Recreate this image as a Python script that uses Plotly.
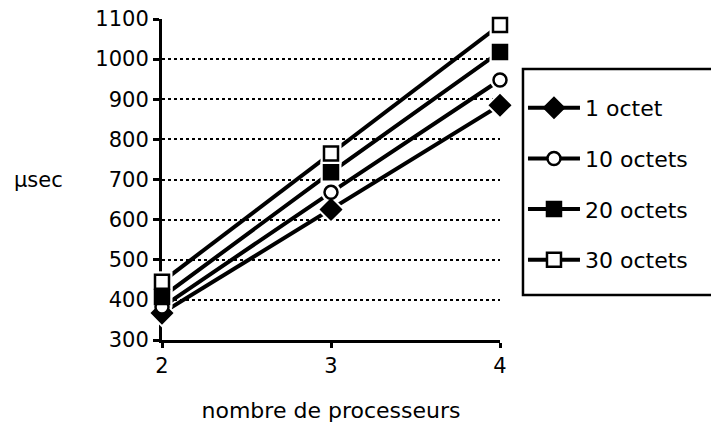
import plotly.graph_objects as go

procs = [2, 3, 4]
names = ["1 octet", "10 octets", "20 octets", "30 octets"]
s1 = [367, 625, 885]
s10 = [382, 668, 948]
s20 = [407, 718, 1018]
s30 = [445, 765, 1085]
y_ticks = [300, 400, 500, 600, 700, 800, 900, 1000, 1100]
x_ticks = [2, 3, 4]

FONT = "DejaVu Sans"
series = [s1, s10, s20, s30]
symbols = ["diamond", "circle", "square", "square"]
fills = ["black", "white", "black", "white"]
sizes = [15, 13, 14, 14]

fig = go.Figure()
for nm, vals, sym, fc, sz in zip(names, series, symbols, fills, sizes):
    fig.add_trace(go.Scatter(
        x=procs, y=vals, name=nm, mode="lines+markers",
        line=dict(color="black", width=4),
        marker=dict(symbol=sym, size=sz, color=fc, line=dict(color="black", width=2.5)),
        cliponaxis=False, legendgroup=nm,
    ))
for nm, vals, sym, sz in zip(names, series, symbols, sizes):
    fig.add_trace(go.Scatter(
        x=procs, y=vals, mode="markers", showlegend=False, hoverinfo="skip",
        marker=dict(symbol=sym, size=sz + 7, color="white", line=dict(width=0)),
        cliponaxis=False,
    ))
for nm, vals, sym, fc, sz in zip(names, series, symbols, fills, sizes):
    fig.add_trace(go.Scatter(
        x=procs, y=vals, mode="markers", showlegend=False, name=nm,
        marker=dict(symbol=sym, size=sz, color=fc, line=dict(color="black", width=2.5)),
        cliponaxis=False,
    ))

fig.update_layout(
    width=719, height=422,
    margin=dict(l=154, r=227, t=11, b=90),
    paper_bgcolor="white", plot_bgcolor="white",
    font=dict(family=FONT, size=21, color="black"),
    showlegend=True,
    legend=dict(
        x=1.068, y=0.788, xanchor="left", yanchor="top",
        borderwidth=0, bgcolor="rgba(0,0,0,0)",
        font=dict(family=FONT, size=22, color="black"),
        tracegroupgap=19, itemwidth=52,
    ),
    shapes=[dict(
        type="rect", xref="paper", yref="paper",
        x0=1.068, x1=1.75, y0=0.14, y1=0.844,
        line=dict(color="black", width=2.5), fillcolor="white", layer="above",
    )],
    xaxis=dict(
        range=[2, 4], tickvals=x_ticks, ticktext=[str(v) for v in x_ticks],
        showgrid=False, zeroline=False, automargin=False,
        showline=True, linecolor="black", linewidth=3,
        ticks="outside", ticklen=5, tickwidth=3, tickcolor="black",
        tickfont=dict(family=FONT, size=21),
        title=dict(text="nombre de processeurs", font=dict(family=FONT, size=22), standoff=26),
        layer="below traces",
    ),
    xaxis2=dict(
        range=[2, 4], tickvals=x_ticks, overlaying="x", side="bottom",
        showticklabels=False, showgrid=False, zeroline=False, showline=False,
        ticks="inside", ticklen=4, tickwidth=3, tickcolor="black", automargin=False,
    ),
    yaxis=dict(
        range=[300, 1100], tickvals=y_ticks, ticktext=[str(v) for v in y_ticks],
        showgrid=True, gridcolor="black", gridwidth=1.8, griddash="dot",
        zeroline=False, automargin=False, ticklabeloverflow="allow",
        showline=True, linecolor="black", linewidth=3,
        ticks="outside", ticklen=6, tickwidth=3, tickcolor="black",
        tickfont=dict(family=FONT, size=21),
        layer="below traces",
    ),
    yaxis2=dict(
        range=[300, 1100], tickvals=y_ticks, overlaying="y", side="left",
        showticklabels=False, showgrid=False, zeroline=False, showline=False,
        ticks="inside", ticklen=5, tickwidth=3, tickcolor="black", automargin=False,
    ),
    annotations=[dict(
        text="µsec", xref="paper", yref="paper", x=-0.364, y=0.498,
        xanchor="center", yanchor="middle", showarrow=False,
        font=dict(family=FONT, size=21, color="black"),
    )],
)

fig.write_html("out.html")
